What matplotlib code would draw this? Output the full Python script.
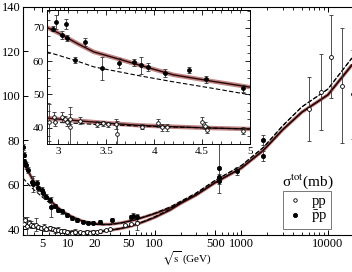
import numpy as np
import matplotlib.pyplot as plt
from matplotlib.ticker import FixedLocator, NullFormatter, MultipleLocator

plt.rcParams['font.family'] = ['Liberation Serif', 'DejaVu Serif']
plt.rcParams['mathtext.fontset'] = 'stix'

# ---- main panel data (sqrt(s) in GeV, sigma in mb) ----
pp_x = [3.0, 3.1, 3.2, 3.3, 3.5, 3.7, 3.9, 4.2, 4.5, 4.8, 5.2, 5.6, 6.1, 6.6, 7.1, 7.6,
        8.2, 9.0, 9.8, 11.0, 12.0, 13.8, 15.0, 16.5, 18.0, 19.4, 21.7, 23.5, 27.4,
        30.6, 44.7, 52.8, 62.7,
        6000, 8300, 11000, 14500, 19300]
pp_y = [43.5, 42.5, 44.0, 41.5, 43.0, 42.0, 41.6, 42.0, 41.0, 40.5, 40.8, 40.2, 40.5, 40.0,
        39.5, 39.8, 39.2, 39.3, 38.8, 38.5, 38.9, 38.6, 38.4, 38.8, 38.3, 38.9, 38.7, 39.0,
        39.7, 40.1, 41.7, 42.4, 43.0,
        94.0, 101.6, 117.5, 104.6, 100.7]
pp_e = [2.0, 1.0, 1.5, 4.0, 1.0, 1.5, 1.0, 3.0, 1.0, 1.0, 1.5, 1.0, 1.0, 1.0,
        1.0, 1.0, 1.0, 1.0, 1.0, 1.0, 1.0, 0.8, 0.8, 1.0, 0.8, 0.8, 0.5, 0.5,
        0.5, 0.5, 0.5, 0.5, 3.5,
        14.5, 17.0, 18.7, 26.0, 20.0]

pb_x = [3.02, 3.05, 3.08, 3.15, 3.25, 3.45, 3.78, 3.95, 4.3, 4.5, 4.95, 5.15, 5.6, 6.1,
        6.4, 7.0, 7.6, 8.4, 9.6, 11.0, 12.5, 14.9, 17.1, 19.5, 23.3, 31.8, 52.6, 56.5,
        62.7, 546, 546, 546, 900, 1800, 1800]
pb_y = [77.0, 73.5, 70.5, 69.5, 68.8, 66.6, 61.4, 60.4, 60.7, 58.4, 57.7, 56.2, 54.6, 53.2,
        50.2, 50.5, 48.7, 48.0, 46.4, 44.9, 44.2, 43.4, 43.0, 43.0, 43.4, 44.2, 45.4, 46.0,
        45.4, 61.9, 63.5, 67.5, 66.3, 80.0, 72.8]
pb_e = [1.5, 1.2, 1.2, 1.0, 1.5, 1.5, 1.5, 3.5, 1.5, 1.2, 1.2, 1.2, 1.2, 1.0,
        4.5, 1.0, 1.0, 1.0, 0.8, 0.8, 0.8, 0.8, 0.8, 0.8, 0.8, 0.7, 1.0, 1.2,
        1.5, 1.5, 1.5, 11.0, 1.9, 2.3, 2.3]

# fitted curves
fit_x = [3, 3.5, 4, 5, 6, 7, 8, 10, 12, 15, 20, 25, 30, 40, 50, 60, 80, 100, 150, 200,
         300, 500, 1000, 1800, 3000, 5000, 10000, 19000]
fit_pb = [70.0, 65.5, 61.5, 57.0, 53.5, 51.0, 49.0, 46.5, 45.0, 43.5, 42.5, 42.2, 42.2,
          42.8, 43.6, 44.3, 45.8, 47.0, 49.5, 52.0, 55.5, 61.0, 67.5, 75.5, 84.7, 92.6,
          100.4, 113.9]
fit_pp = [42.5, 41.7, 41.0, 40.2, 39.7, 39.3, 39.0, 38.8, 38.7, 38.6, 38.8, 39.1, 39.5,
          40.3, 41.1, 42.0, 43.8, 45.3, 48.6, 51.6, 55.3, 61.0, 67.5, 75.5, 84.7, 92.6,
          100.4, 113.9]
dash_pb = [63.0, 60.0, 57.8, 54.5, 52.0, 50.0, 48.3, 46.0, 44.6, 43.2, 42.2, 42.0, 42.1,
           42.7, 43.5, 44.3, 45.9, 47.2, 50.0, 52.6, 56.3, 62.0, 68.6, 76.8, 86.5, 95.0,
           103.0, 117.0]
dash_pp = [41.5, 40.9, 40.4, 39.8, 39.4, 39.1, 38.8, 38.6, 38.5, 38.5, 38.7, 39.0, 39.4,
           40.3, 41.2, 42.1, 44.0, 45.6, 49.0, 52.2, 56.0, 62.0, 68.6, 76.8, 86.5, 95.0,
           103.0, 117.0]

x_ticks = [5, 10, 20, 50, 100, 500, 1000, 10000]
x_labels = ['5', '10', '20', '50', '100', '500', '1000', '10000']

# ---- inset data ----
in_pp_x = [2.90, 2.95, 2.97, 3.04, 3.07, 3.09, 3.12, 3.12, 3.23, 3.40, 3.47, 3.52, 3.60,
           3.61, 3.87, 4.04, 4.08, 4.13, 4.50, 4.53, 4.55, 4.93]
in_pp_y = [41.6, 43.1, 41.6, 43.1, 42.6, 41.6, 40.1, 42.6, 42.1, 41.1, 41.3, 41.0, 41.1,
           38.1, 40.3, 41.5, 40.1, 40.1, 41.7, 40.6, 39.4, 39.1]
in_pp_e = [5.5, 1.5, 1.0, 1.5, 1.0, 1.0, 6.0, 1.5, 1.0, 0.8, 0.8, 0.8, 1.5,
           4.0, 0.8, 1.2, 1.0, 1.0, 1.5, 1.0, 1.0, 1.0]

in_pb_x = [2.94, 2.98, 3.04, 3.08, 3.09, 3.17, 3.28, 3.46, 3.63, 3.79, 3.86, 3.94, 4.11,
           4.36, 4.54, 4.93]
in_pb_y = [69.8, 71.8, 67.9, 71.2, 67.0, 60.4, 65.8, 57.9, 59.4, 59.7, 58.8, 58.2, 56.4,
           57.4, 54.5, 51.8]
in_pb_e = [0.8, 2.0, 1.2, 1.5, 1.0, 1.0, 1.2, 3.5, 1.5, 1.0, 2.5, 1.2, 1.2,
           1.0, 1.0, 1.0]

in_fit_x = [2.88, 3.0, 3.2, 3.37, 3.6, 3.85, 4.2, 4.6, 5.0]
in_fit_pb = [70.2, 68.5, 65.3, 62.8, 60.9, 58.8, 55.9, 54.0, 52.2]
in_dash_pb = [62.8, 61.8, 60.0, 58.3, 57.0, 55.6, 53.8, 51.9, 49.9]
in_fit_pp = [42.9, 42.6, 42.1, 41.7, 41.2, 40.7, 40.3, 39.9, 39.6]
in_dash_pp = [41.8, 41.6, 41.3, 41.0, 40.8, 40.5, 40.2, 39.9, 39.6]


def band(a, x, y, w):
    a.plot(x, y, color='#c08585', lw=w, solid_capstyle='butt', zorder=2)
    a.plot(x, y, color='#2a0505', lw=1.0, zorder=3)


def points(a, x, y, e, filled, ms):
    a.errorbar(x, y, yerr=e, fmt='o', ms=ms, mfc='black' if filled else 'white',
               mec='black', mew=0.6, ecolor='#333333', elinewidth=0.6, capsize=1.2,
               capthick=0.6, zorder=4)


fig = plt.figure(figsize=(3.52, 2.72), dpi=100)
ax = fig.add_axes([0.0653, 0.136, 0.9347, 0.839])
ax.set_xscale('log')

band(ax, fit_x, fit_pb, 2.3)
band(ax, fit_x, fit_pp, 2.3)
ax.plot(fit_x, dash_pb, color='black', lw=0.8, ls=(0, (4, 2)), zorder=3)
ax.plot(fit_x, dash_pp, color='black', lw=0.8, ls=(0, (4, 2)), zorder=3)
points(ax, pp_x, pp_y, pp_e, False, 2.8)
points(ax, pb_x, pb_y, pb_e, True, 3.0)

ax.set_xlim(3, 19000)
ax.set_ylim(37.4, 140)
ax.set_yticks([40, 60, 80, 100, 120, 140])
minor_x = [m * 10 ** k for k in range(0, 5) for m in range(2, 10)
           if 3 <= m * 10 ** k <= 19000 and m * 10 ** k not in x_ticks]
ax.xaxis.set_major_locator(FixedLocator(x_ticks))
ax.set_xticklabels(x_labels)
ax.xaxis.set_minor_locator(FixedLocator(minor_x))
ax.xaxis.set_minor_formatter(NullFormatter())
ax.tick_params(which='both', direction='in', top=True, labelsize=9, pad=2)
ax.tick_params(which='major', length=3.5, width=0.7)
ax.tick_params(which='minor', length=2.5, width=0.6)
ax.spines['right'].set_visible(False)
for s in ['left', 'bottom', 'top']:
    ax.spines[s].set_linewidth(0.8)
ax.set_xlabel(r'$\sqrt{\rm s}$ (GeV)', fontsize=8, labelpad=0)

# legend
h1 = ax.errorbar([], [], fmt='o', ms=2.5, mfc='white', mec='black', mew=0.6)
h2 = ax.errorbar([], [], fmt='o', ms=3.0, mfc='black', mec='black', mew=0.6)
leg = ax.legend([h1, h2], ['pp', r'$\bar{\rm p}$p'], loc='upper left',
                bbox_to_anchor=(283 / 352, 1 - 191 / 272), bbox_transform=fig.transFigure,
                fontsize=10.5, frameon=True, fancybox=False, handlelength=1.2,
                handletextpad=0.5, borderpad=0.25, borderaxespad=0, labelspacing=0.05)
leg.get_frame().set_edgecolor('#555555')
leg.get_frame().set_linewidth(0.7)
fig.text(308 / 352, 1 - 182 / 272, 'σ$^{\\rm tot}$(mb)', fontsize=11,
         ha='center', va='center')

# inset
ins = fig.add_axes([0.1327, 0.4706, 0.5776, 0.4926])
band(ins, in_fit_x, in_fit_pb, 3.2)
band(ins, in_fit_x, in_fit_pp, 3.2)
ins.plot(in_fit_x, in_dash_pb, color='black', lw=0.8, ls=(0, (4, 2)), zorder=3)
ins.plot(in_fit_x, in_dash_pp, color='black', lw=0.8, ls=(0, (4, 2)), zorder=3)
points(ins, in_pp_x, in_pp_y, in_pp_e, False, 2.6)
points(ins, in_pb_x, in_pb_y, in_pb_e, True, 2.8)
ins.set_xlim(2.879, 5.0)
ins.set_ylim(35.1, 75.4)
ins.set_xticks([3, 3.5, 4, 4.5, 5])
ins.set_xticklabels(['3', '3.5', '4', '4.5', '5'])
ins.set_yticks([40, 50, 60, 70])
ins.xaxis.set_minor_locator(MultipleLocator(0.1))
ins.yaxis.set_minor_locator(MultipleLocator(2.5))
ins.tick_params(which='both', direction='in', top=True, right=True, labelsize=8, pad=2)
ins.tick_params(which='major', length=3.5, width=0.6)
ins.tick_params(which='minor', length=2, width=0.5)
for s in ins.spines.values():
    s.set_linewidth(0.7)

fig.savefig('out.png', dpi=100)
